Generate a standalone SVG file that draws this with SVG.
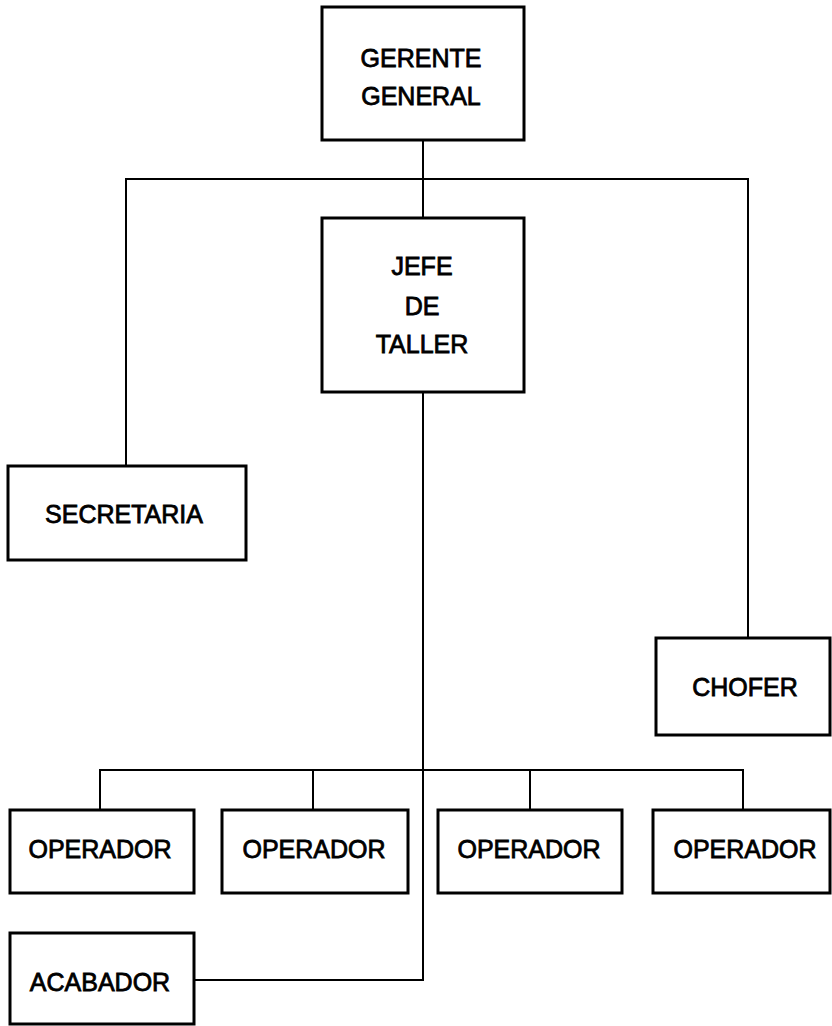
<svg xmlns="http://www.w3.org/2000/svg" width="832" height="1026" viewBox="0 0 832 1026">
<style>
.box{fill:#fff;stroke:#000;stroke-width:3}
.lbl{font-family:"Liberation Sans",Arial,sans-serif;font-size:25px;fill:#000;text-anchor:middle;stroke:#000;stroke-width:0.8}
.ln{fill:none;stroke:#000;stroke-width:2}
</style>
<rect width="832" height="1026" fill="#fff"/>
<g id="connectors">
<line class="ln" x1="423" y1="140" x2="423" y2="218"/>
<polyline class="ln" points="126,466 126,179 748,179 748,638"/>
<polyline class="ln" points="423,392 423,980 194,980"/>
<polyline class="ln" points="100,810 100,770 743,770 743,810"/>
<line class="ln" x1="313" y1="770" x2="313" y2="810"/>
<line class="ln" x1="530" y1="770" x2="530" y2="810"/>
</g>
<g id="gerente">
<rect class="box" x="322" y="7" width="202" height="133"/>
<text class="lbl" x="421" y="67">GERENTE</text>
<text class="lbl" x="421" y="105">GENERAL</text>
</g>
<g id="jefe">
<rect class="box" x="322" y="218" width="202" height="174"/>
<text class="lbl" x="422" y="275">JEFE</text>
<text class="lbl" x="422" y="315">DE</text>
<text class="lbl" x="422" y="353">TALLER</text>
</g>
<g id="secretaria">
<rect class="box" x="8" y="466" width="238" height="94"/>
<text class="lbl" x="124" y="523">SECRETARIA</text>
</g>
<g id="chofer">
<rect class="box" x="656" y="638" width="174" height="97"/>
<text class="lbl" x="745" y="696">CHOFER</text>
</g>
<g id="operador1">
<rect class="box" x="10" y="810" width="184" height="83"/>
<text class="lbl" x="100" y="858">OPERADOR</text>
</g>
<g id="operador2">
<rect class="box" x="222" y="810" width="186" height="83"/>
<text class="lbl" x="314" y="858">OPERADOR</text>
</g>
<g id="operador3">
<rect class="box" x="438" y="810" width="184" height="83"/>
<text class="lbl" x="529" y="858">OPERADOR</text>
</g>
<g id="operador4">
<rect class="box" x="653" y="810" width="177" height="83"/>
<text class="lbl" x="745" y="858">OPERADOR</text>
</g>
<g id="acabador">
<rect class="box" x="10" y="933" width="184" height="91"/>
<text class="lbl" x="100" y="991">ACABADOR</text>
</g>
</svg>
